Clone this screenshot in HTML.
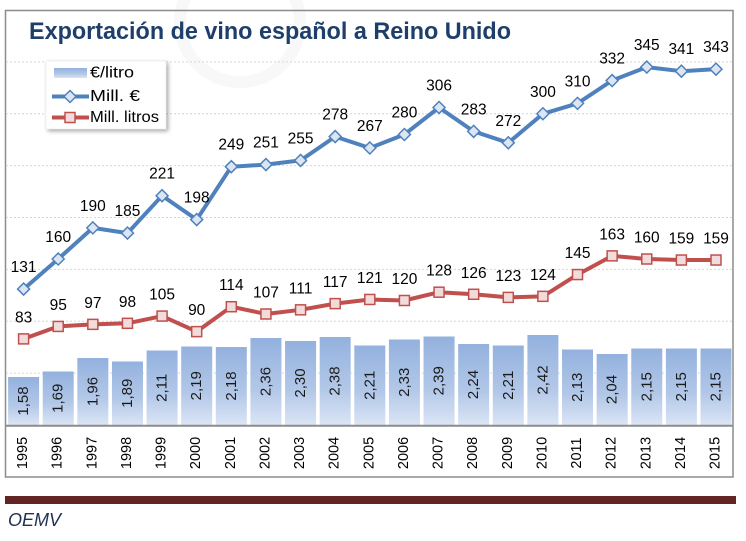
<!DOCTYPE html>
<html>
<head>
<meta charset="utf-8">
<style>
html,body{margin:0;padding:0;background:#fff;}
svg{display:block;}
text{font-family:"Liberation Sans",sans-serif;}
</style>
</head>
<body>
<svg width="746" height="541" viewBox="0 0 746 541" xmlns="http://www.w3.org/2000/svg">
<defs>
<linearGradient id="bg" x1="0" y1="0" x2="0" y2="1">
<stop offset="0" stop-color="#93b1de"/>
<stop offset="0.6" stop-color="#b3c8e8"/>
<stop offset="1" stop-color="#dbe5f5"/>
</linearGradient>
<filter id="sh" x="-20%" y="-20%" width="140%" height="140%">
<feGaussianBlur in="SourceAlpha" stdDeviation="2"/>
<feOffset dx="2" dy="2"/>
<feComponentTransfer><feFuncA type="linear" slope="0.35"/></feComponentTransfer>
<feMerge><feMergeNode/><feMergeNode in="SourceGraphic"/></feMerge>
</filter>
</defs>
<rect width="746" height="541" fill="#fff"/>
<!-- watermark ring -->
<circle cx="240" cy="22" r="60" fill="none" stroke="#f8f8f8" stroke-width="12"/>
<!-- chart border -->
<rect x="5.5" y="10.5" width="727.5" height="466.5" fill="none" stroke="#8c8c8c" stroke-width="1.5"/>
<!-- gridlines -->
<g stroke="#d6d6d6" stroke-width="1" stroke-dasharray="2,2">
<line x1="6" x2="732" y1="373.1" y2="373.1"/>
<line x1="6" x2="732" y1="321.3" y2="321.3"/>
<line x1="6" x2="732" y1="269.4" y2="269.4"/>
<line x1="6" x2="732" y1="217.5" y2="217.5"/>
<line x1="6" x2="732" y1="165.6" y2="165.6"/>
<line x1="6" x2="732" y1="113.8" y2="113.8"/>
<line x1="6" x2="732" y1="61.9" y2="61.9"/>
</g>
<!-- title -->
<text x="29" y="39" font-size="24" font-weight="bold" fill="#1f3f6b" textLength="482" lengthAdjust="spacingAndGlyphs">Exportación de vino español a Reino Unido</text>
<g id="bars"></g>
<g id="lines"></g>
<!-- axis line -->
<line x1="6" x2="733" y1="425.8" y2="425.8" stroke="#8c8c8c" stroke-width="2"/>
<g id="years"></g>
<!-- legend -->
<g filter="url(#sh)">
<rect x="46" y="61" width="120" height="68" fill="#fff" stroke="#e2e2e2" stroke-width="0.5"/>
</g>
<rect x="54" y="68" width="33" height="10" fill="url(#bg)"/>
<text x="90" y="77.5" font-size="16" fill="#000" textLength="44" lengthAdjust="spacingAndGlyphs">€/litro</text>
<line x1="52" x2="89" y1="96.5" y2="96.5" stroke="#4f81bd" stroke-width="4"/>
<polygon points="70,90.5 76,96.5 70,102.5 64,96.5" fill="#dce6f2" stroke="#4f81bd" stroke-width="1.5"/>
<text x="90" y="101" font-size="16" fill="#000" textLength="50" lengthAdjust="spacingAndGlyphs">Mill. €</text>
<line x1="52" x2="89" y1="117.5" y2="117.5" stroke="#c0504d" stroke-width="4"/>
<rect x="65" y="112.5" width="10" height="10" fill="#f2dcdb" stroke="#c0504d" stroke-width="1.5"/>
<text x="90" y="122" font-size="16" fill="#000" textLength="69" lengthAdjust="spacingAndGlyphs">Mill. litros</text>
<!-- footer -->
<rect x="5" y="496" width="731" height="8" fill="#632523"/>
<text x="8" y="526" font-size="18" font-style="italic" fill="#1f3050">OEMV</text>
<script>
(function(){
var NS="http://www.w3.org/2000/svg";
var years=[];for(var y=1995;y<=2015;y++)years.push(y);
var eur=[131,160,190,185,221,198,249,251,255,278,267,280,306,283,272,300,310,332,345,341,343];
var lit=[83,95,97,98,105,90,114,107,111,117,121,120,128,126,123,124,145,163,160,159,159];
var pl=[1.58,1.69,1.96,1.89,2.11,2.19,2.18,2.36,2.30,2.38,2.21,2.33,2.39,2.24,2.21,2.42,2.13,2.04,2.15,2.15,2.15];
function el(n,a,t){var e=document.createElementNS(NS,n);for(var k in a)e.setAttribute(k,a[k]);if(t!==undefined)e.textContent=t;return e;}
var bars=document.getElementById('bars'),lines=document.getElementById('lines'),yr=document.getElementById('years');
function cx(i){return 23.6+34.62*i;}
function vy(v){return 425-v*1.0375;}
for(var i=0;i<21;i++){
 var top=425-50*(pl[i]-0.62);
 bars.appendChild(el('rect',{x:cx(i)-15.5,y:top,width:31,height:425-top,fill:'url(#bg)'}));
 var my=(top+425)/2;
 bars.appendChild(el('text',{x:0,y:0,'font-size':15,fill:'#1a1a1a','text-anchor':'middle','dominant-baseline':'central',transform:'translate('+cx(i).toFixed(1)+','+my.toFixed(1)+') rotate(-90)'},pl[i].toFixed(2).replace('.',',')));
 yr.appendChild(el('text',{x:0,y:0,'font-size':14.5,fill:'#000','text-anchor':'middle','dominant-baseline':'central',transform:'translate('+(cx(i)-0.5).toFixed(1)+',453) rotate(-90)'},String(years[i])));
}
function series(data,color){
 var pts=data.map(function(v,i){return cx(i).toFixed(1)+','+vy(v).toFixed(1);}).join(' ');
 lines.appendChild(el('polyline',{points:pts,fill:'none',stroke:color,'stroke-width':4,'stroke-linejoin':'round'}));
}
series(eur,'#4f81bd');series(lit,'#c0504d');
for(var i=0;i<21;i++){
 var x=cx(i),y=vy(eur[i]);
 lines.appendChild(el('polygon',{points:x+','+(y-6)+' '+(x+6)+','+y+' '+x+','+(y+6)+' '+(x-6)+','+y,fill:'#dce6f2',stroke:'#4f81bd','stroke-width':1.5}));
 lines.appendChild(el('text',{x:x,y:y-17,'font-size':15.5,fill:'#000','text-anchor':'middle'},String(eur[i])));
 var y2=vy(lit[i]);
 lines.appendChild(el('rect',{x:x-5,y:y2-5,width:10,height:10,fill:'#f2dcdb',stroke:'#c0504d','stroke-width':1.5}));
 lines.appendChild(el('text',{x:x,y:y2-16.5,'font-size':15.5,fill:'#000','text-anchor':'middle'},String(lit[i])));
}
})();
</script>
</svg>
</body>
</html>
